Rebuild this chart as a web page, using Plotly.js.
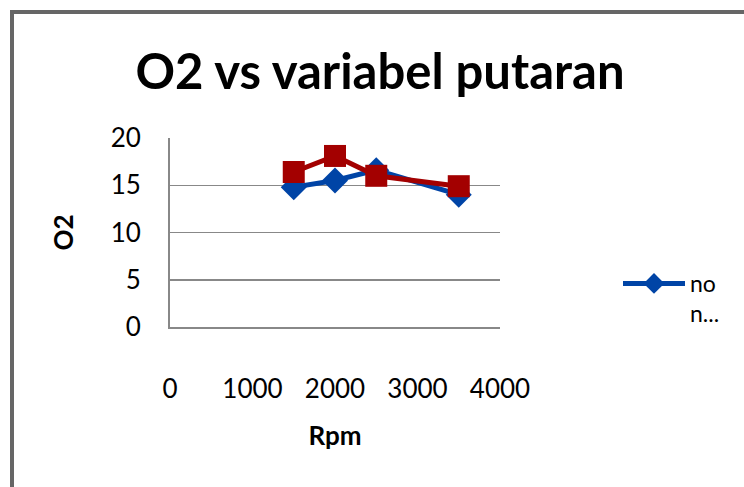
<!DOCTYPE html>
<html>
<head>
<meta charset="utf-8">
<script src="https://cdn.plot.ly/plotly-3.0.1.min.js"></script>
<style>
  html, body { margin: 0; padding: 0; background: #fff; overflow: hidden; }
  #chart { position: absolute; left: 0; top: 0; width: 744px; height: 487px; }
  #frame { position: absolute; left: 10px; top: 10px; width: 900px; height: 700px;
           border-left: 4px solid #666; border-top: 4px solid #666; pointer-events: none; }
</style>
</head>
<body>
<div id="chart"></div>
<div id="frame"></div>
<script>
const rpm = [1500, 2000, 2500, 3500];
const seriesBlue = [14.8, 15.5, 16.6, 14.0];
const seriesRed = [16.4, 18.1, 16.0, 14.9];
const legendName = "no<br>n...";
const xTicks = [0, 1000, 2000, 3000, 4000];
const yTicks = [0, 5, 10, 15, 20];

const font = "Lato, 'Open Sans', sans-serif";

const traces = [
  {
    x: rpm, y: seriesBlue, type: "scatter", mode: "lines+markers",
    name: legendName,
    line: { color: "#0044A6", width: 5 },
    marker: { symbol: "diamond", size: 20, color: "#0044A6" }
  },
  {
    x: rpm, y: seriesRed, type: "scatter", mode: "lines+markers",
    name: "series 2", showlegend: false,
    line: { color: "#A30000", width: 5 },
    marker: { symbol: "square", size: 22, color: "#A30000" }
  }
];

const layout = {
  width: 744, height: 487,
  margin: { l: 170, r: 244, t: 138, b: 160 },
  paper_bgcolor: "#fff", plot_bgcolor: "#fff",
  font: { family: font, color: "#000" },
  title: {
    text: "<b>O2 vs variabel putaran</b>",
    font: { family: font, size: 49, color: "#000" },
    x: 380 / 744, xref: "container", xanchor: "center",
    y: 1 - 72 / 487, yref: "container", yanchor: "middle"
  },
  xaxis: {
    range: [0, 4000], tickvals: xTicks, ticktext: xTicks.map(String),
    showgrid: false, zeroline: false,
    showline: true, linecolor: "#888", linewidth: 2,
    ticks: "", ticklabelstandoff: 38,
    tickfont: { family: font, size: 26, color: "#000" },
    title: { text: "<b>Rpm</b>", font: { family: font, size: 26, color: "#000" }, standoff: 24 },
    fixedrange: true
  },
  yaxis: {
    range: [0, 20], tickvals: yTicks, ticktext: yTicks.map(String),
    showgrid: true, gridcolor: "#888", gridwidth: 1.5, zeroline: false,
    showline: true, linecolor: "#888", linewidth: 2,
    ticks: "", ticklabelstandoff: 22,
    tickfont: { family: font, size: 26, color: "#000" },
    title: { text: "<b>O2</b>", font: { family: font, size: 26, color: "#000" }, standoff: 30 },
    fixedrange: true
  },
  showlegend: true,
  legend: {
    x: (618 - 170) / 330, xanchor: "left",
    y: (327 - 262) / 189, yanchor: "top",
    valign: "top",
    itemwidth: 62,
    font: { family: font, size: 23, color: "#000" },
    bgcolor: "rgba(0,0,0,0)", borderwidth: 0
  }
};

Plotly.newPlot("chart", traces, layout, { displayModeBar: false, staticPlot: true });
</script>
</body>
</html>
